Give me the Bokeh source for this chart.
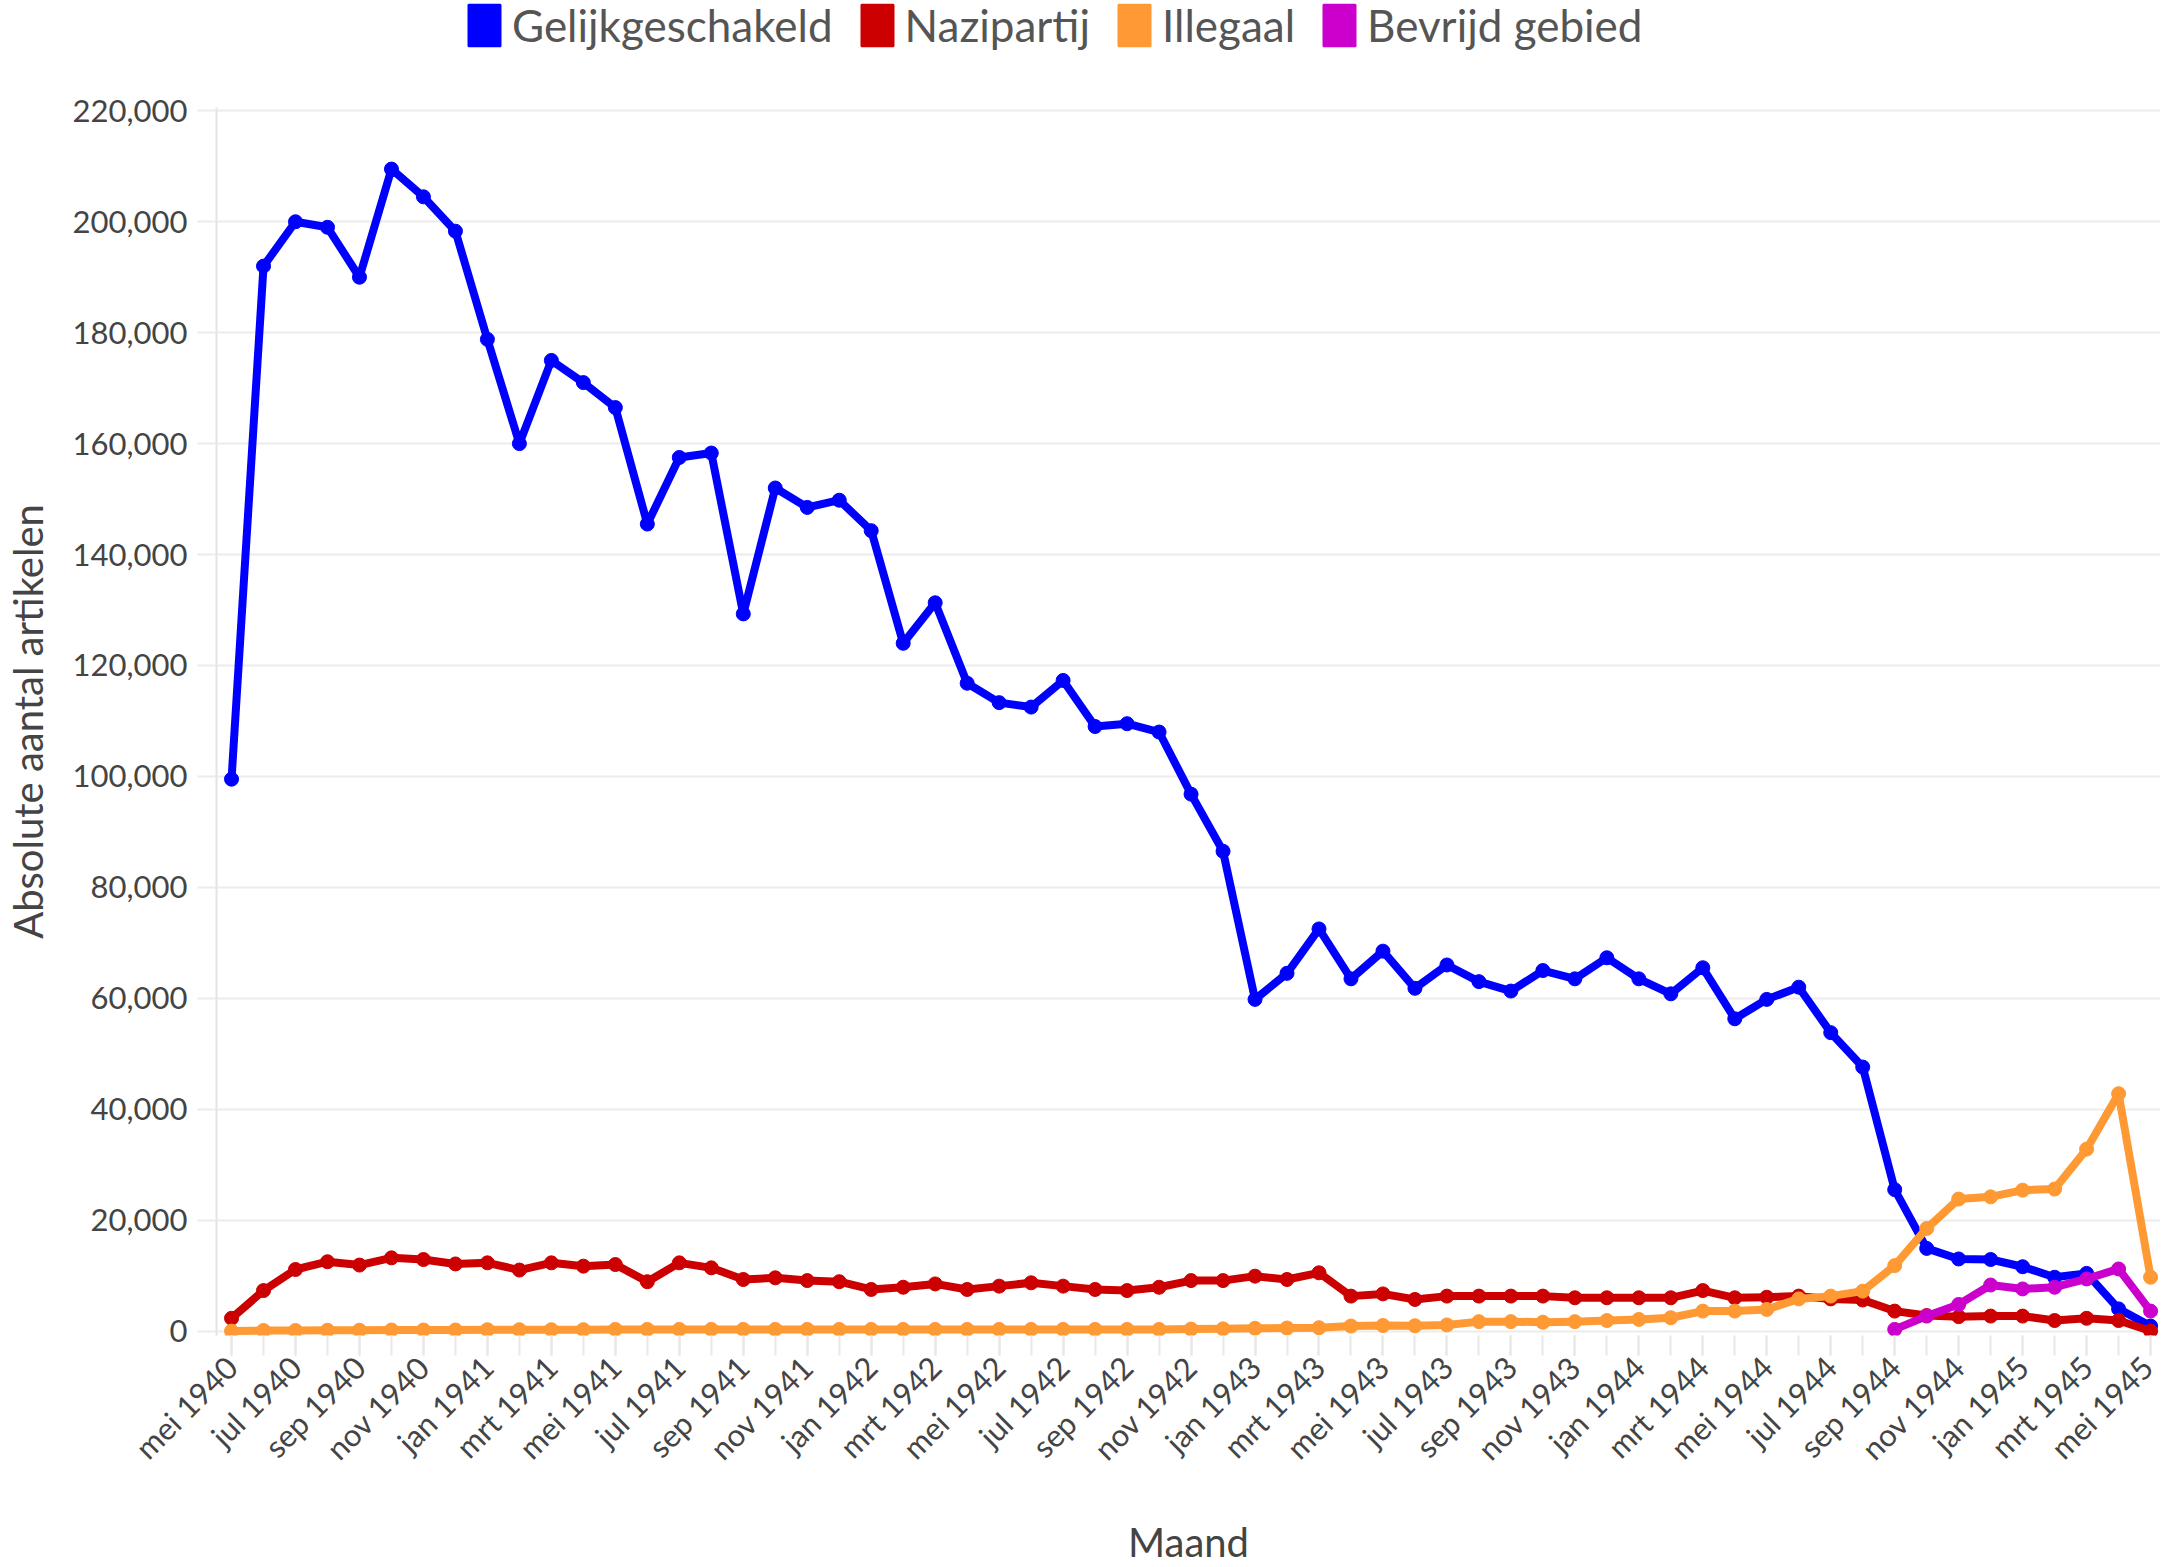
import math
from bokeh.plotting import figure
from bokeh.layouts import column
from bokeh.models import (Range1d, FixedTicker, NumeralTickFormatter, Legend, LegendItem)
from bokeh.embed import file_html
from bokeh.resources import INLINE

# --- data -------------------------------------------------------------
month_names = ["jan", "feb", "mrt", "apr", "mei", "jun", "jul", "aug", "sep", "okt", "nov", "dec"]
month_labels = []
for year in range(1940, 1946):
    for m in month_names:
        month_labels.append(f"{m} {year}")
month_labels = month_labels[4:4 + 61]          # mei 1940 .. mei 1945
month_idx = list(range(len(month_labels)))

gelijkgeschakeld = [
    99500, 192000, 200000, 199000, 190000, 209500, 204500, 198300, 178800, 160000,
    175000, 171000, 166500, 145500, 157500, 158300, 129300, 152000, 148500, 149800,
    144300, 124000, 131300, 116800, 113300, 112500, 117300, 109000, 109500, 108000,
    96800, 86500, 59800, 64500, 72500, 63500, 68500, 61800, 66000, 63000,
    61300, 65000, 63500, 67300, 63500, 60800, 65500, 56300, 59800, 62000,
    53800, 47600, 25500, 14900, 13000, 12900, 11600, 9700, 10400, 4000,
    900,
]
nazipartij = [
    2300, 7300, 11100, 12500, 11900, 13200, 12900, 12100, 12300, 11000,
    12300, 11700, 12000, 8900, 12300, 11400, 9300, 9600, 9100, 8900,
    7500, 7900, 8500, 7500, 8100, 8700, 8100, 7500, 7300, 7900,
    9100, 9100, 9900, 9300, 10500, 6300, 6700, 5700, 6300, 6300,
    6300, 6300, 6000, 6000, 6000, 6000, 7300, 6000, 6100, 6300,
    5800, 5600, 3600, 2800, 2600, 2700, 2700, 1900, 2300, 1900,
    0,
]
illegaal = [
    0, 100, 100, 150, 150, 200, 200, 200, 250, 250,
    250, 250, 300, 300, 300, 300, 300, 300, 300, 300,
    300, 300, 300, 300, 300, 300, 300, 300, 300, 300,
    350, 400, 500, 550, 600, 900, 1000, 950, 1100, 1700,
    1700, 1600, 1700, 1900, 2100, 2400, 3600, 3600, 3900, 5800,
    6300, 7200, 11800, 18500, 23800, 24200, 25400, 25600, 32800, 42800,
    9700,
]
bevrijd_start = 52                              # sep 1944
bevrijd_gebied = [300, 2700, 4800, 8300, 7600, 7900, 9400, 11200, 3600]
bevrijd_idx = list(range(bevrijd_start, bevrijd_start + len(bevrijd_gebied)))

y_ticks = list(range(0, 220001, 20000))

# --- styling ----------------------------------------------------------
FONT = "Lato"
TEXT = "#444444"
names = ["Gelijkgeschakeld", "Nazipartij", "Illegaal", "Bevrijd gebied"]
colors = {"Gelijkgeschakeld": "#0000ff", "Nazipartij": "#cc0000",
          "Illegaal": "#ff9933", "Bevrijd gebied": "#cc00cc"}

FIG_W = 2158
LEG_H = 60

# ---- legend strip on top ----
lf = figure(frame_width=FIG_W, frame_height=LEG_H,
            x_range=Range1d(0, 1), y_range=Range1d(0, 1),
            x_axis_type=None, y_axis_type=None,
            output_backend="svg", toolbar_location=None,
            min_border_left=0, min_border_right=0,
            min_border_top=0, min_border_bottom=0)
lf.outline_line_color = None
lf.grid.visible = False
items = []
for name in names:
    c = colors[name]
    # zero-size block: only used to give the legend entry its colour swatch
    swatch = lf.quad(left=[0], right=[0], top=[0], bottom=[0],
                     fill_color=c, line_color=c, line_width=2)
    items.append(LegendItem(label=name, renderers=[swatch]))
legend = Legend(items=items, orientation="horizontal", location=(464, 9),
                glyph_width=40, glyph_height=52, label_standoff=8, spacing=24,
                padding=0, margin=0, border_line_color=None,
                background_fill_alpha=0,
                label_text_font=FONT, label_text_font_size="44px",
                label_text_color="#555555")
lf.add_layout(legend)

# ---- main chart ----
p = figure(frame_width=1944, frame_height=1228,
           x_range=Range1d(-0.47, 60.31), y_range=Range1d(-800, 220600),
           output_backend="svg", toolbar_location=None,
           min_border_left=214, min_border_right=0,
           min_border_top=107 - LEG_H, min_border_bottom=214)
p.outline_line_color = None
p.background_fill_color = "white"
p.border_fill_color = "white"

p.xgrid.grid_line_color = None
p.ygrid.grid_line_color = "#ececec"
p.ygrid.grid_line_width = 2

# y axis
p.yaxis.ticker = FixedTicker(ticks=y_ticks)
p.yaxis.formatter = NumeralTickFormatter(format="0,0")
p.yaxis.axis_line_color = "#e3e3e3"
p.yaxis.axis_line_width = 2
p.yaxis.major_tick_line_color = "#ececec"
p.yaxis.major_tick_line_width = 2
p.yaxis.major_tick_out = 19
p.yaxis.major_tick_in = 0
p.yaxis.minor_tick_line_color = None
p.yaxis.major_label_standoff = 10
p.yaxis.major_label_text_font = FONT
p.yaxis.major_label_text_font_size = "31px"
p.yaxis.major_label_text_color = TEXT
p.yaxis.axis_label = "Absolute aantal artikelen"
p.yaxis.axis_label_text_font = FONT
p.yaxis.axis_label_text_font_size = "40px"
p.yaxis.axis_label_text_font_style = "normal"
p.yaxis.axis_label_text_color = TEXT
p.yaxis.axis_label_standoff = 18

# x axis
major = month_idx[::2]
p.xaxis.ticker = FixedTicker(ticks=major, minor_ticks=month_idx)
p.xaxis.major_label_overrides = {i: month_labels[i] for i in major}
p.xaxis.major_label_orientation = math.pi / 4
p.xaxis.axis_line_color = None
p.xaxis.major_tick_line_color = "#e8e8e8"
p.xaxis.minor_tick_line_color = "#e8e8e8"
p.xaxis.major_tick_line_width = 2
p.xaxis.minor_tick_line_width = 2
p.xaxis.major_tick_out = 20
p.xaxis.major_tick_in = 0
p.xaxis.minor_tick_out = 20
p.xaxis.minor_tick_in = 0
p.xaxis.major_label_standoff = 6
p.xaxis.major_label_text_font = FONT
p.xaxis.major_label_text_font_size = "31px"
p.xaxis.major_label_text_color = TEXT
p.xaxis.axis_label = "Maand"
p.xaxis.axis_label_text_font = FONT
p.xaxis.axis_label_text_font_size = "40px"
p.xaxis.axis_label_text_font_style = "normal"
p.xaxis.axis_label_text_color = TEXT
p.xaxis.axis_label_standoff = 34

# series
series = [
    ("Gelijkgeschakeld", month_idx, gelijkgeschakeld),
    ("Nazipartij", month_idx, nazipartij),
    ("Illegaal", month_idx, illegaal),
    ("Bevrijd gebied", bevrijd_idx, bevrijd_gebied),
]
for name, xs, ys in series:
    c = colors[name]
    p.line(xs, ys, line_color=c, line_width=8, line_join="round", line_cap="round")
    p.scatter(xs, ys, size=14, fill_color=c, line_color=c)

layout = column(lf, p, spacing=0)
open("out.html", "w").write(file_html(layout, INLINE))
